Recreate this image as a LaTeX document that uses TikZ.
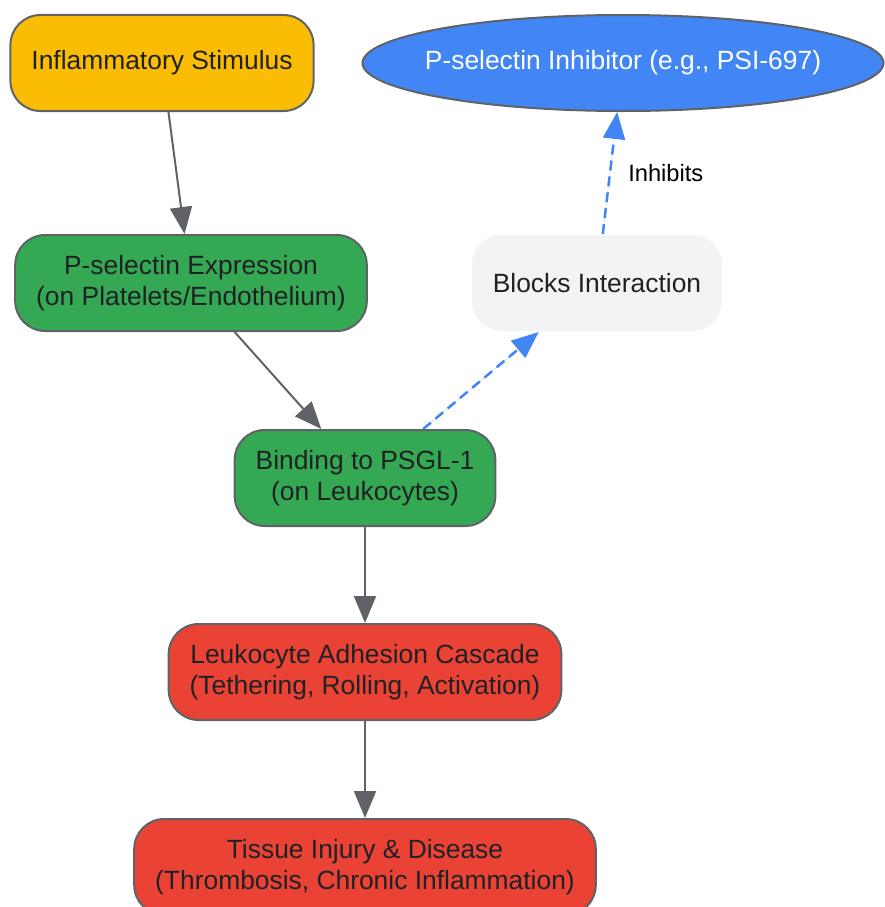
\documentclass[tikz,border=0pt]{standalone}
\usepackage{fontspec}
\setmainfont{Liberation Sans}
\usetikzlibrary{arrows.meta,positioning,shapes.geometric}
\definecolor{edgegray}{HTML}{5F6368}
\definecolor{ink}{HTML}{202124}
\definecolor{gyellow}{HTML}{FBBC04}
\definecolor{ggreen}{HTML}{34A853}
\definecolor{gred}{HTML}{EA4335}
\definecolor{gblue}{HTML}{4285F4}
\definecolor{glight}{HTML}{F1F3F4}

\begin{document}
\begin{tikzpicture}
   [x=1pt,y=-1pt,
    >={Triangle[length=27pt,width=22pt]},
    box/.style={rectangle,rounded corners=30pt,draw=edgegray,line width=2pt,
      minimum height=96pt,inner xsep=21pt,align=center,text=ink,
      font=\fontsize{26.4}{31}\selectfont},
    flow/.style={->,draw=edgegray,fill=edgegray,line width=2pt},
    block/.style={->,draw=gblue,fill=gblue,line width=2.5pt,
      dash pattern=on 10pt off 6pt}]
\useasboundingbox (0,0) rectangle (884,907);
\node [box,fill=gyellow] (stim) at (162,63) {Inflammatory Stimulus};
\node [ellipse,draw=edgegray,line width=2pt,fill=gblue,text=white,
       minimum width=521pt,minimum height=96pt,inner sep=0pt,
       font=\fontsize{26.4}{31}\selectfont] (inhib) at (623,63)
       {\makebox[0pt]{P-selectin Inhibitor (e.g., PSI-697)}};
\node [box,fill=ggreen] (expr) at (191,283) {P-selectin Expression\\(on Platelets/Endothelium)};
\node [box,fill=glight,draw=none] (blocks) at (597,283) {Blocks Interaction};
\node [box,fill=ggreen] (bind) at (365,478) {Binding to PSGL-1\\(on Leukocytes)};
\node [box,fill=gred] (casc) at (365,672) {Leukocyte Adhesion Cascade\\(Tethering, Rolling, Activation)};
\node [box,fill=gred] (injury) at (365,867) {Tissue Injury \& Disease\\(Thrombosis, Chronic Inflammation)};
\draw [flow] (stim) -- (expr);
\draw [flow] (expr) -- (bind);
\draw [flow] (bind) -- (casc);
\draw [flow] (casc) -- (injury);
\draw [block] (bind) -- (blocks);
\draw [block] (blocks) -- node [right=17pt,inner sep=0pt,text=black,
       font=\fontsize{23.7}{28}\selectfont] {Inhibits} (inhib);
\end{tikzpicture}
\end{document}
